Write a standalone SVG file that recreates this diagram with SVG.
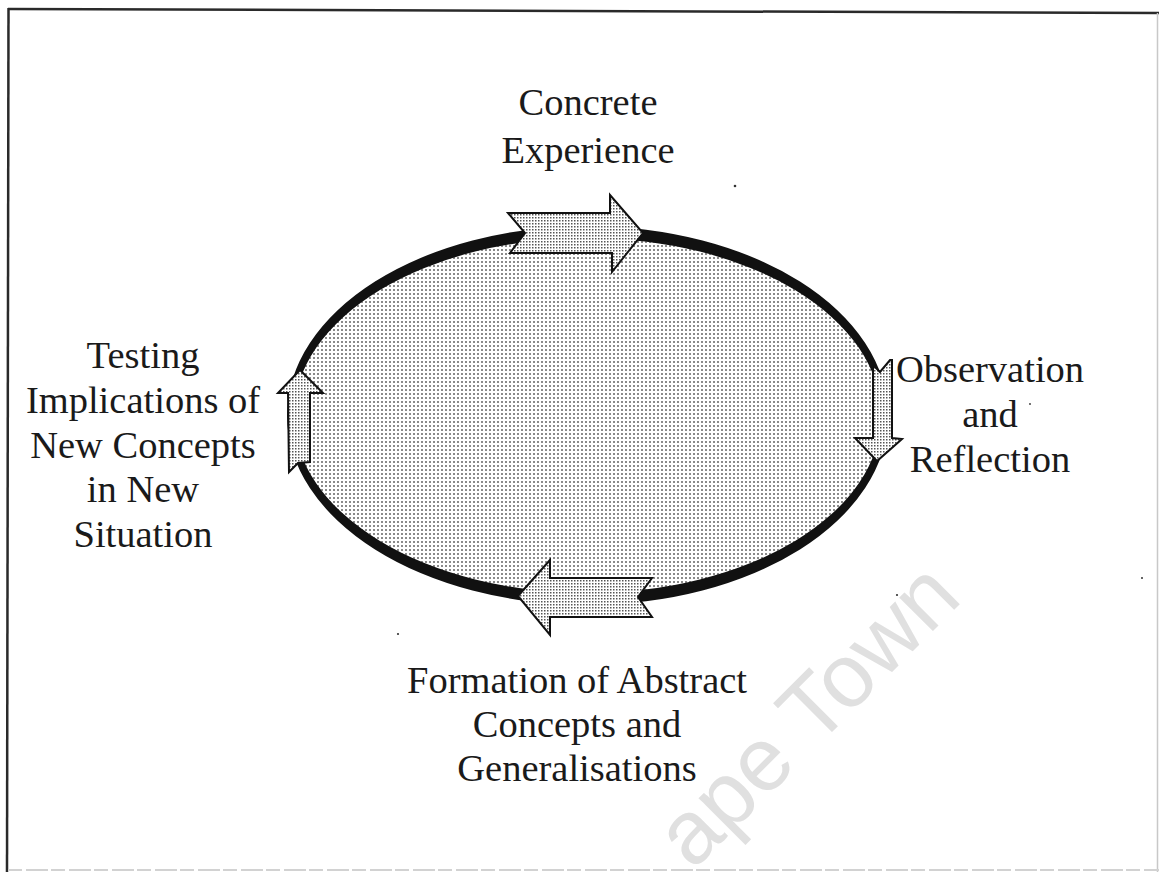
<svg xmlns="http://www.w3.org/2000/svg" width="1159" height="872" viewBox="0 0 1159 872">
  <defs>
    <!-- halftone screen for the cycle body -->
    <pattern id="screenBody" patternUnits="userSpaceOnUse" width="4" height="4">
      <rect width="4" height="4" fill="#ffffff"/>
      <rect x="1" y="1" width="2" height="2" fill="#8a8a8a"/>
    </pattern>
    <!-- slightly denser screen for the stage arrows -->
    <pattern id="screenArrow" patternUnits="userSpaceOnUse" width="3" height="3">
      <rect width="3" height="3" fill="#ffffff"/>
      <rect x="1" y="1" width="1.5" height="1.5" fill="#555555"/>
    </pattern>
    <style>
      .label { font-family: "Liberation Serif", "Times New Roman", serif; font-size: 38.5px; fill: #1a1a1a; text-anchor: middle; }
      .arrow { fill: url(#screenArrow); stroke: #111; stroke-width: 2; stroke-linejoin: miter; }
      .frame { stroke: #2a2a2a; stroke-width: 2.5; fill: none; }
      .speck { fill: #333; }
      .mark { font-family: "Liberation Sans", Arial, sans-serif; font-size: 90px; fill: #e0e0e0; }
    </style>
  </defs>

  <rect width="1159" height="872" fill="#ffffff"/>

  <!-- page frame -->
  <g id="frame">
    <line class="frame" x1="8" y1="9" x2="1159" y2="13"/>
    <line class="frame" x1="8.5" y1="8" x2="7" y2="872"/>
    <line x1="1157.5" y1="13" x2="1157.5" y2="872" stroke="#c8c8c8" stroke-width="1.5"/>
    <line x1="8" y1="870" x2="1159" y2="870" stroke="#d2d2d2" stroke-width="2" stroke-dasharray="14 4 22 3"/>
  </g>

  <!-- background stamp -->
  <text class="mark" x="964" y="600" text-anchor="end" transform="rotate(-45 964 600)">ape Town</text>

  <!-- the cycle -->
  <g id="cycle">
    <ellipse cx="587.5" cy="415.5" rx="294" ry="178" fill="url(#screenBody)"/>
    <path fill="#111" fill-rule="evenodd"
          d="M287,415.5 a300.5,189.5 0 1,0 601,0 a300.5,189.5 0 1,0 -601,0 Z
             M294,415.5 a293.5,177.5 0 1,0 587,0 a293.5,177.5 0 1,0 -587,0 Z"/>
  </g>

  <!-- stage arrows -->
  <g id="connectors">
    <polygon id="arrow-top" class="arrow" points="508,213 610,213 610,195 643,233 612,272 612,253 510,253 525,233"/>
    <polygon id="arrow-right" class="arrow" points="873,365 880,372 890,360 892,360 892,438 902,439 877,461 855,438 873,438"/>
    <polygon id="arrow-bottom" class="arrow" points="518,596 550,560 550,578 652,578 638,597 652,617 550,617 550,635"/>
    <polygon id="arrow-left" class="arrow" points="300,370 323,393 310,393 310,462 298,463 289,472 288,393 278,393"/>
  </g>

  <!-- stage labels -->
  <g id="node-concrete">
    <text class="label" x="588" y="115">Concrete</text>
    <text class="label" x="588" y="163">Experience</text>
  </g>
  <g id="node-observation">
    <text class="label" x="990" y="382">Observation</text>
    <text class="label" x="990" y="427">and</text>
    <text class="label" x="990" y="472">Reflection</text>
  </g>
  <g id="node-formation">
    <text class="label" x="577" y="693">Formation of Abstract</text>
    <text class="label" x="577" y="737">Concepts and</text>
    <text class="label" x="577" y="781">Generalisations</text>
  </g>
  <g id="node-testing">
    <text class="label" x="143" y="368">Testing</text>
    <text class="label" x="143" y="413">Implications of</text>
    <text class="label" x="143" y="458">New Concepts</text>
    <text class="label" x="143" y="502">in New</text>
    <text class="label" x="143" y="547">Situation</text>
  </g>

  <!-- stray print specks -->
  <g id="specks">
    <circle class="speck" cx="735" cy="186" r="1.3"/>
    <circle class="speck" cx="1030" cy="404" r="0.9"/>
    <circle class="speck" cx="897" cy="595" r="1.1"/>
    <circle class="speck" cx="398" cy="634" r="1.1"/>
    <circle class="speck" cx="1142" cy="578" r="1"/>
  </g>
</svg>
